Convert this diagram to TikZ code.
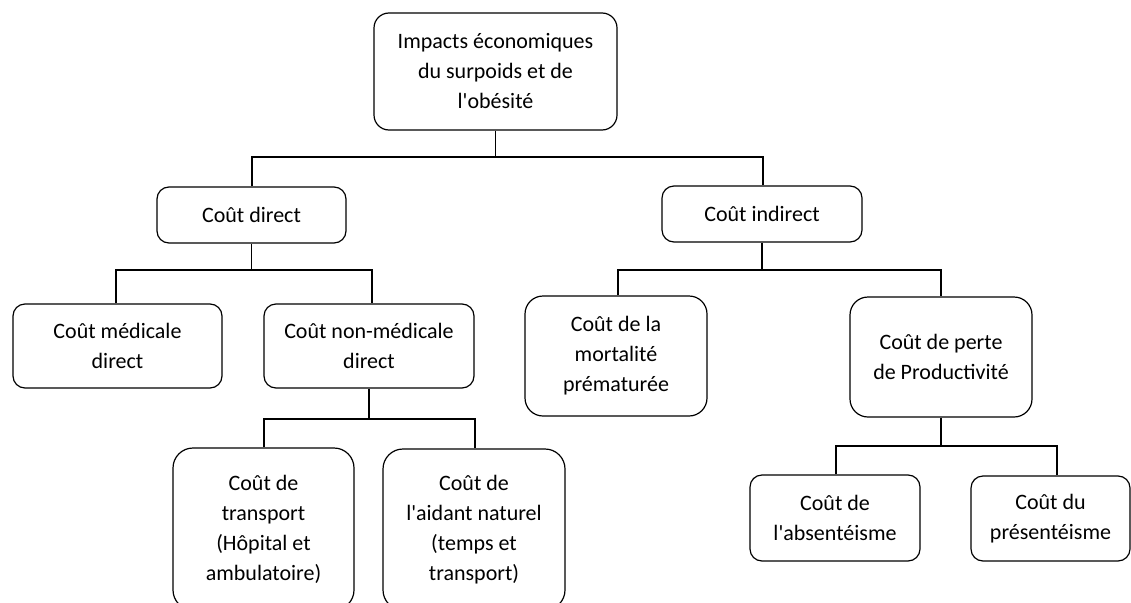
\documentclass[tikz,border=0pt]{standalone}
\usepackage{fontspec}
\setmainfont{Carlito}[Ligatures=TeXOff]
\begin{document}
\begin{tikzpicture}[x=1pt,y=-1pt,
  box/.style={draw, line width=1.2pt, align=center, inner sep=0pt,
    font=\fontsize{22}{30}\selectfont, rounded corners=#1},
  box/.default=12pt,
  conn/.style={line width=1.2pt}]
\useasboundingbox (0,0) rectangle (1131,602);
\clip (0,0) rectangle (1131,602);
% nodes
\node[box=15pt, minimum width=243pt, minimum height=117pt] (top) at (495.5,71.5) {Impacts économiques\\du surpoids et de\\l'obésité};
\node[box, minimum width=189pt, minimum height=56pt] (direct) at (251.5,215) {Coût direct};
\node[box, minimum width=200pt, minimum height=56pt] (indirect) at (762,214) {Coût indirect};
\node[box, minimum width=209pt, minimum height=84pt] (med) at (117.5,346) {Coût médicale\\direct};
\node[box, minimum width=210pt, minimum height=84pt] (nonmed) at (369,346) {Coût non-médicale\\direct};
\node[box=18pt, minimum width=182pt, minimum height=120pt] (mort) at (616,356) {Coût de la\\mortalité\\prématurée};
\node[box=18pt, minimum width=182pt, minimum height=120pt] (prod) at (941,357) {Coût de perte\\de Productivité};
\node[box=20pt, minimum width=181pt, minimum height=162pt] (transp) at (263.5,529) {Coût de\\transport\\(Hôpital et\\ambulatoire)};
\node[box=20pt, minimum width=182pt, minimum height=161pt] (aidant) at (474,529.5) {Coût de\\l'aidant naturel\\(temps et\\transport)};
\node[box, minimum width=170pt, minimum height=86pt] (absent) at (835,518) {Coût de\\l'absentéisme};
\node[box, minimum width=159pt, minimum height=85pt] (present) at (1050.5,518.5) {Coût du\\présentéisme};
% bus coordinates
\coordinate (top-l) at (252,157);
\coordinate (top-r) at (763,157);
\coordinate (direct-l) at (116,270);
\coordinate (direct-r) at (372,270);
\coordinate (indirect-l) at (618,270);
\coordinate (indirect-r) at (941,270);
\coordinate (nonmed-l) at (264,419);
\coordinate (nonmed-r) at (475,419);
\coordinate (prod-l) at (836,446);
\coordinate (prod-r) at (1057,446);
% connectors
\draw[conn] (top.south) -- (top.south |- top-l);
\draw[conn] (top-l |- direct.north) -- (top-l) -- (top-r) -- (top-r |- indirect.north);
\draw[conn] (direct.south) -- (direct.south |- direct-l);
\draw[conn] (direct-l |- med.north) -- (direct-l) -- (direct-r) -- (direct-r |- nonmed.north);
\draw[conn] (indirect.south) -- (indirect.south |- indirect-l);
\draw[conn] (indirect-l |- mort.north) -- (indirect-l) -- (indirect-r) -- (indirect-r |- prod.north);
\draw[conn] (nonmed.south) -- (nonmed.south |- nonmed-l);
\draw[conn] (nonmed-l |- transp.north) -- (nonmed-l) -- (nonmed-r) -- (nonmed-r |- aidant.north);
\draw[conn] (prod.south) -- (prod.south |- prod-l);
\draw[conn] (prod-l |- absent.north) -- (prod-l) -- (prod-r) -- (prod-r |- present.north);
\end{tikzpicture}
\end{document}
